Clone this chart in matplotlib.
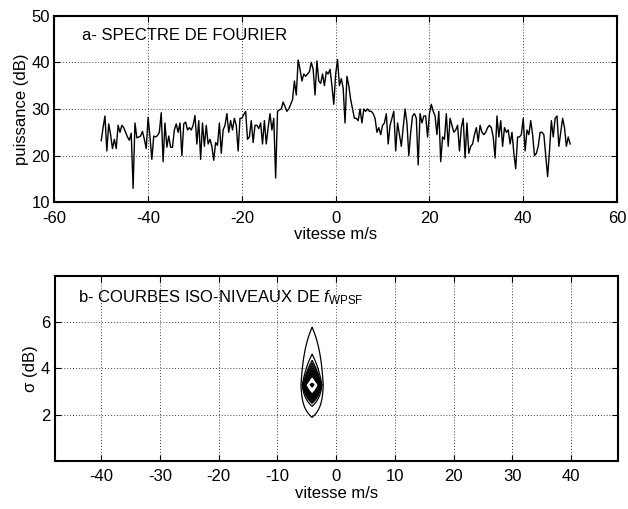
import numpy as np
import matplotlib
matplotlib.use("Agg")
import matplotlib.pyplot as plt

plt.rcParams['font.family'] = ['Liberation Sans', 'DejaVu Sans']
plt.rcParams['font.size'] = 12
plt.rcParams['axes.unicode_minus'] = False
plt.rcParams['mathtext.fontset'] = 'custom'
plt.rcParams['mathtext.rm'] = 'Liberation Sans'
plt.rcParams['mathtext.it'] = 'Liberation Sans:italic'

# (a) spectre de Fourier, vitesse -50..50 m/s par pas de 0.4
power = [
    23.2, 26.0, 28.5, 21.0, 26.8, 24.5, 21.5, 23.5, 21.5, 26.5,
    25.0, 26.5, 26.0, 25.0, 24.0, 23.3, 24.8, 13.0, 27.0, 23.8,
    24.0, 24.2, 25.2, 23.5, 21.5, 28.2, 24.0, 19.2, 24.2, 24.0,
    24.3, 25.0, 29.2, 18.7, 27.0, 21.8, 24.2, 21.8, 21.8, 25.5,
    26.8, 25.0, 27.0, 20.0, 26.8, 27.2, 25.5, 26.0, 25.5, 26.5,
    28.6, 22.5, 27.5, 19.2, 27.0, 22.0, 26.5, 22.5, 23.5, 22.0,
    19.0, 22.8, 22.2, 27.0, 20.5, 25.5, 26.5, 29.0, 25.0, 27.5,
    25.5, 28.0, 26.5, 21.0, 28.0, 28.0,
    28.8, 29.5, 23.5, 24.0, 27.5, 22.8, 26.5, 26.5, 25.8, 27.0,
    22.5, 27.5, 22.5, 26.0, 29.0, 25.5, 28.0, 15.2, 29.5, 29.8,
    30.0, 31.5, 30.5, 29.5, 30.0, 31.0, 32.0, 36.0, 33.0, 40.5,
    38.5, 36.0, 37.5, 37.0, 37.5, 38.0, 40.0, 38.5, 33.0, 40.3,
    36.0, 35.5, 37.5, 35.0, 38.0, 37.5, 38.5, 35.0, 31.0, 37.5,
    40.6, 35.0, 36.5, 34.5,
    27.0, 37.0, 35.0, 32.0, 30.0, 28.0, 28.0, 27.5, 30.0, 27.0,
    30.0, 29.5, 30.0, 29.5, 29.5, 29.0, 28.0, 25.0, 26.0, 24.5,
    26.5, 27.0, 29.0, 22.5, 26.5, 28.0, 29.5, 21.0, 27.0, 24.5,
    22.0, 26.0, 30.0, 27.0, 20.0, 25.0, 28.5, 29.0, 28.0, 18.0,
    29.0, 27.0, 28.5, 28.5, 24.0, 29.0, 31.0, 29.5, 28.5, 24.5,
    29.5, 18.7, 24.0, 23.5, 29.0, 22.0, 28.0, 26.5, 25.0, 25.5,
    26.5, 21.0, 26.0, 28.0, 19.5, 27.0, 20.5, 22.0, 22.5, 24.5,
    26.0, 23.0, 26.5, 25.0, 24.5, 25.0, 26.0, 26.5, 26.0, 24.0,
    19.5, 28.5, 24.0, 27.5, 22.0, 26.0, 25.0, 25.5, 22.5, 25.0,
    20.5, 17.2, 24.0, 24.0, 24.5, 28.0, 21.0, 25.5, 24.5, 27.5,
    24.5, 20.0, 20.5, 22.0, 25.0, 25.0, 24.5, 20.0, 15.5, 21.0,
    27.5, 24.0, 28.0, 28.5, 22.0, 25.0, 28.0, 26.0, 22.0, 24.0,
    22.5,
]
v_min, v_max = -50, 50

# (b) iso-niveaux de f_WPSF : pic estime
peak_v = -4.1          # m/s
peak_sigma = 3.3       # dB
v_step = 2.0           # pas de la grille en vitesse
sig_scale_up, sig_pow_up = 0.533, 0.716
sig_scale_dn, sig_pow_dn = 0.528, 1.11
levels = [0.05, 0.15, 0.2, 0.23, 0.26, 0.29, 0.32, 0.35, 0.38, 0.41, 0.44, 0.47,
          0.84, 0.88, 0.92, 0.95, 0.98]

velocity = np.linspace(v_min, v_max, len(power))

fig = plt.figure(figsize=(6.28, 5.09), dpi=100)
ax1 = fig.add_axes([0.0865, 0.6026, 0.896, 0.3666])
ax2 = fig.add_axes([0.0868, 0.0943, 0.897, 0.3644])

def style(ax):
    for s in ax.spines.values():
        s.set_linewidth(1.5)
    ax.tick_params(direction='in', length=4, width=0.8, top=True, right=True,
                   labelsize=12, pad=3)
    ax.tick_params(axis='x', pad=6)
    ax.grid(True, color='0.25', linestyle=(0, (1, 2)), linewidth=0.7)

ax1.plot(velocity, power, color='k', linewidth=1.0)
ax1.set_xlim(-60, 60)
ax1.set_ylim(10, 50)
ax1.set_xticks(np.arange(-60, 61, 20))
ax1.set_yticks(np.arange(10, 51, 10))
ax1.set_xlabel("vitesse m/s", labelpad=1)
ax1.set_ylabel("puissance (dB)", labelpad=2)
ax1.text(0.049, 0.895, "a- SPECTRE DE FOURIER", transform=ax1.transAxes,
         ha='left', va='center', fontsize=12)
style(ax1)

# grille grossiere en vitesse, fine en sigma
vg = peak_v + v_step * np.arange(-3, 4)
sg = np.linspace(0, 8, 801)
d = sg - peak_sigma
prof = np.where(d >= 0,
                np.exp(-(np.abs(d) / sig_scale_up) ** sig_pow_up),
                np.exp(-(np.abs(d) / sig_scale_dn) ** sig_pow_dn))
field = np.zeros((len(sg), len(vg)))
field[:, 3] = prof
ax2.contour(vg, sg, field, levels=levels, colors='k', linewidths=0.9)
ax2.set_xlim(-48, 48)
ax2.set_ylim(0, 8)
ax2.set_xticks(np.arange(-40, 41, 10))
ax2.set_yticks([2, 4, 6])
ax2.set_xlabel("vitesse m/s", labelpad=1)
ax2.set_ylabel("σ (dB)", labelpad=2)
ax2.text(0.042, 0.879, r"b- COURBES ISO-NIVEAUX DE $f_{\mathrm{WPSF}}$",
         transform=ax2.transAxes, ha='left', va='center', fontsize=12)
style(ax2)

fig.savefig("out.png", dpi=100)
